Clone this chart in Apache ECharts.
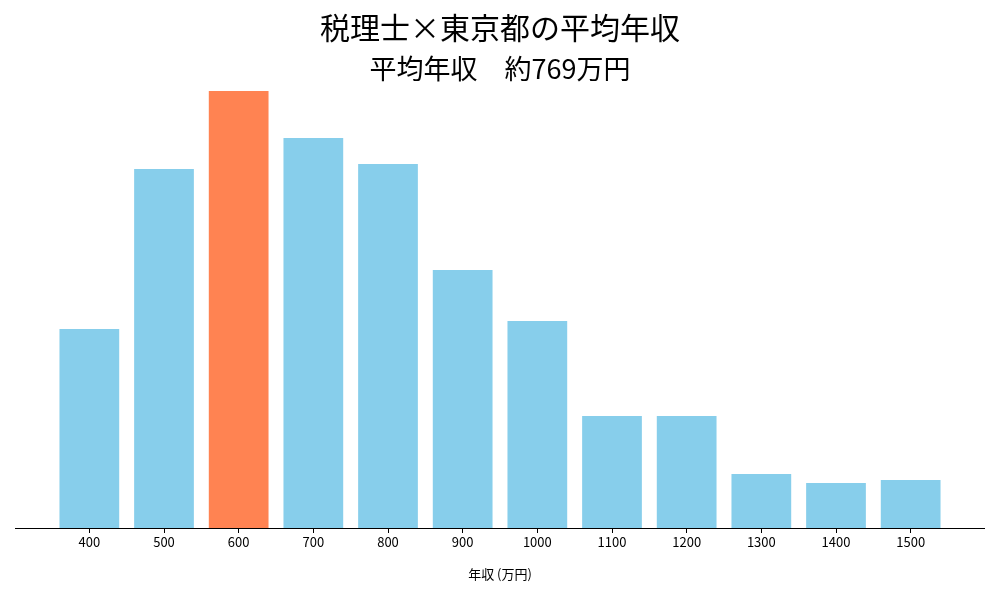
<!DOCTYPE html>
<html><head><meta charset="utf-8">
<script src="https://cdn.jsdelivr.net/npm/echarts@6/dist/echarts.min.js"></script>
<style>html,body{margin:0}#c{width:1000px;height:600px}</style></head>
<body><div id="c"></div>
<script>
const categories=['400','500','600','700','800','900','1000','1100','1200','1300','1400','1500'];
const values=[199,359,437,390,364,258,207,112,112,54,45,48];
const highlight='600';
const title='税理士×東京都の平均年収';
const subtitle='平均年収　約769万円';
const font='"Noto Sans CJK JP","Noto Sans",sans-serif';
const chart=echarts.init(document.getElementById('c'));
chart.setOption({
  animation:false,
  title:[{text:title,left:'center',top:8,textStyle:{fontFamily:font,fontSize:30,fontWeight:'normal',color:'#000'}},
         {text:subtitle,left:'center',top:50,textStyle:{fontFamily:font,fontSize:27,fontWeight:'normal',color:'#000'}}],
  grid:{left:52,right:52,top:91,bottom:72},
  graphic:[{type:'line',shape:{x1:15,y1:528.5,x2:985,y2:528.5},style:{stroke:'#000',lineWidth:1}}],
  xAxis:{type:'category',data:categories,axisLine:{show:false},
    axisTick:{show:true,alignWithLabel:true,length:5,lineStyle:{color:'#000'}},
    axisLabel:{color:'#000',fontSize:13,fontFamily:font,margin:8},
    name:'年収 (万円)',nameLocation:'middle',nameGap:40,nameTextStyle:{color:'#000',fontSize:13,fontFamily:font}},
  yAxis:{type:'value',min:0,max:437,show:false,splitLine:{show:false}},
  series:[{type:'bar',barCategoryGap:'20%',
    data:values.map((v,i)=>({value:v,itemStyle:{color:categories[i]===highlight?'#ff8352':'#87ceeb'}}))}]
});
</script></body></html>
